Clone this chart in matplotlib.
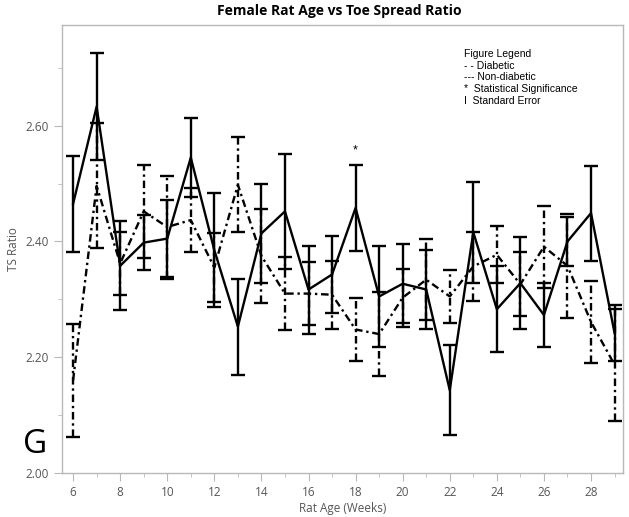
import matplotlib
matplotlib.use("Agg")
import matplotlib.pyplot as plt
from matplotlib.ticker import MultipleLocator

weeks = list(range(6, 30))

# Non-diabetic (solid line)
nd_mean = [2.465, 2.633, 2.358, 2.398, 2.405, 2.545, 2.385, 2.253, 2.414, 2.452,
           2.317, 2.343, 2.458, 2.305, 2.327, 2.317, 2.143, 2.416, 2.283, 2.328,
           2.273, 2.400, 2.449, 2.242]
nd_se = [0.083, 0.092, 0.077, 0.048, 0.066, 0.068, 0.098, 0.083, 0.085, 0.100,
         0.076, 0.066, 0.074, 0.087, 0.068, 0.068, 0.078, 0.087, 0.074, 0.079,
         0.055, 0.042, 0.082, 0.049]

# Diabetic (dash-dot line)
d_mean = [2.160, 2.496, 2.362, 2.452, 2.425, 2.437, 2.355, 2.498, 2.375, 2.310,
          2.310, 2.308, 2.248, 2.240, 2.303, 2.334, 2.305, 2.357, 2.377, 2.326,
          2.391, 2.358, 2.261, 2.187]
d_se = [0.097, 0.108, 0.055, 0.080, 0.089, 0.056, 0.060, 0.082, 0.081, 0.063,
        0.055, 0.059, 0.054, 0.072, 0.050, 0.070, 0.046, 0.060, 0.049, 0.055,
        0.071, 0.090, 0.071, 0.097]

sig_week = 18
sig_y = 2.557

legend_lines = ["Figure Legend", "- - Diabetic", "--- Non-diabetic",
                "*  Statistical Significance", "I  Standard Error"]

fig = plt.figure(figsize=(6.29, 5.17), dpi=100)
ax = fig.add_axes([0.0986, 0.0851, 0.8919, 0.8665])

dashdot = (0, (3.2, 1.6, 1.0, 1.6))

ln, caps, bars = ax.errorbar(weeks, d_mean, yerr=d_se, color="black", lw=1.7,
                             capsize=5, capthick=1.7, elinewidth=1.7)
ln.set_linestyle(dashdot)
bars[0].set_linestyle(dashdot)

ax.errorbar(weeks, nd_mean, yerr=nd_se, color="black", lw=1.7,
            capsize=5, capthick=1.7, elinewidth=1.7)

ax.text(sig_week, sig_y, "*", ha="center", va="center", fontsize=9,
        family="Liberation Sans")

ax.set_xlim(5.53, 29.36)
ax.set_ylim(2.0, 2.774)
ax.xaxis.set_major_locator(MultipleLocator(2))
ax.xaxis.set_minor_locator(MultipleLocator(1))
ax.yaxis.set_major_locator(MultipleLocator(0.2))
ax.yaxis.set_minor_locator(MultipleLocator(0.1))
ax.set_yticks([2.0, 2.2, 2.4, 2.6])
ax.set_yticklabels(["2.00", "2.20", "2.40", "2.60"])

grey = "#b8b8b8"
for s in ax.spines.values():
    s.set_color(grey)
    s.set_linewidth(1.0)
ax.tick_params(which="both", color=grey, labelcolor="#555555", labelsize=8.5)
ax.tick_params(which="major", length=6)
ax.tick_params(which="minor", length=3)
for lab in ax.get_xticklabels() + ax.get_yticklabels():
    lab.set_family("Open Sans")

ax.set_xlabel("Rat Age (Weeks)", fontsize=8.5, color="#555555", family="Open Sans",
              labelpad=2)
ax.set_ylabel("TS Ratio", fontsize=8.5, color="#555555", family="Open Sans",
              labelpad=4)

fig.suptitle("Female Rat Age vs Toe Spread Ratio", x=0.54, y=0.993,
             fontsize=10, fontweight="bold", family="Open Sans")

ax.text(0.717, 0.947, "\n".join(legend_lines), transform=ax.transAxes,
        ha="left", va="top", fontsize=7.5, family="Liberation Sans",
        linespacing=1.22)

fig.text(0.056, 0.14, "G", fontsize=24, family="Open Sans", ha="center",
         va="center")

fig.savefig("out.png", dpi=100)
